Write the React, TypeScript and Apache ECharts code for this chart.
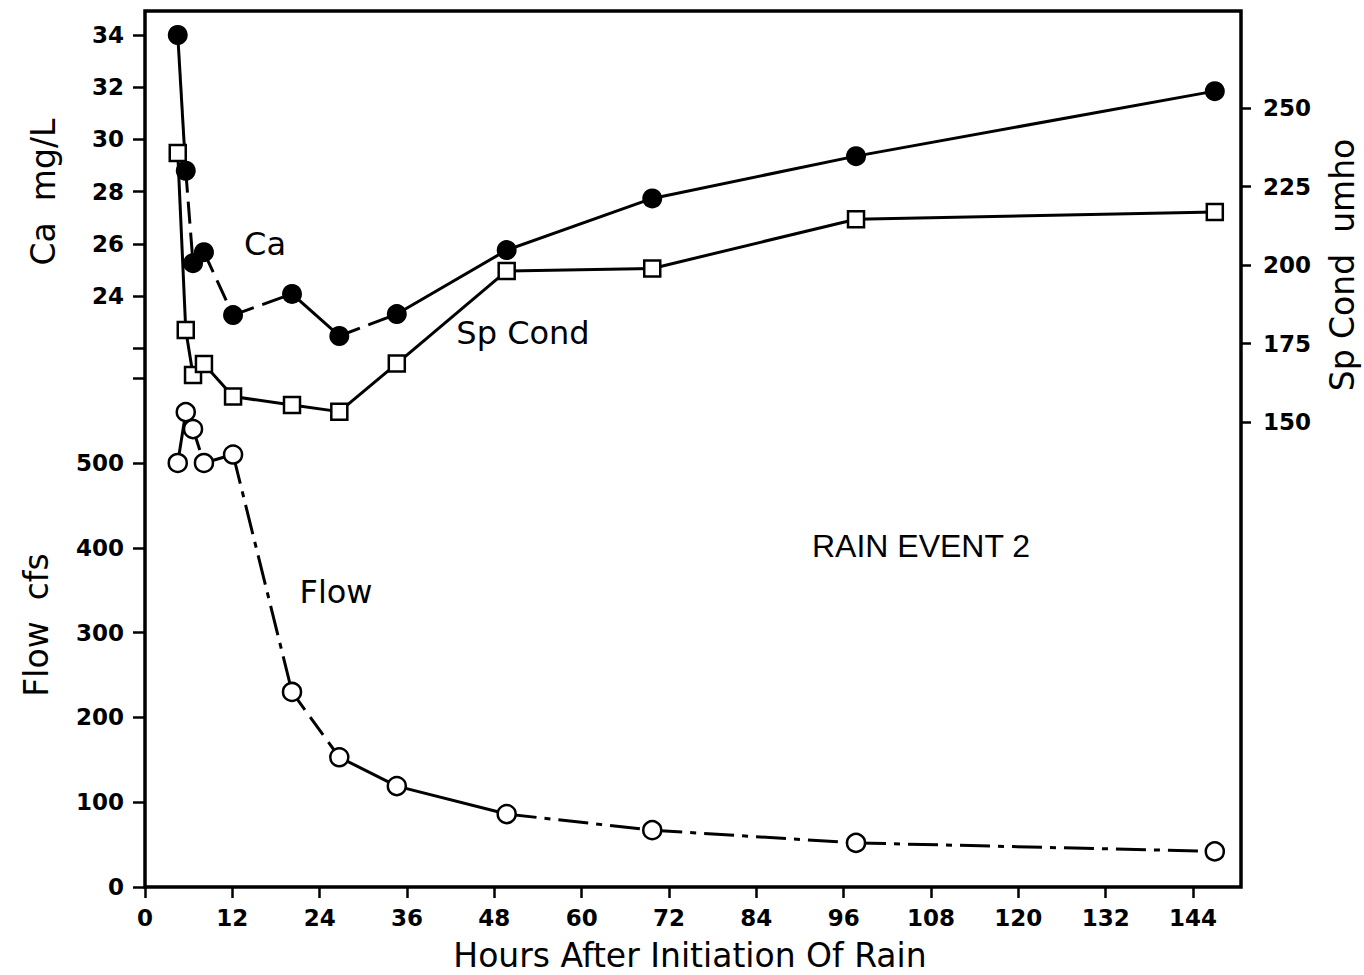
import { useEffect, useRef } from 'react';
import * as echarts from 'echarts';

// ---- data ----
const hours = [4.5, 5.6, 6.6, 8.1, 12.1, 20.2, 26.7, 34.6, 49.7, 69.7, 97.7, 147.0];
const caValues = [34.0, 28.8, 25.26, 25.68, 23.27, 24.08, 22.47, 23.31, 25.76, 27.74, 29.36, 31.85];
const spCondValues = [235.7, 179.3, 165.0, 168.5, 158.1, 155.4, 153.3, 168.6, 198.1, 198.9, 214.6, 216.9];
const flowValues = [500, 560, 540, 500, 510, 230, 153, 119, 86, 67, 52, 42];

const hourTicks = [0, 12, 24, 36, 48, 60, 72, 84, 96, 108, 120, 132, 144];
const caTickLabels = [24, 26, 28, 30, 32, 34];
const caTicks = [22, 24, 26, 28, 30, 32, 34];
const flowTickLabels = [0, 100, 200, 300, 400, 500];
const flowTicks = [0, 100, 200, 300, 400, 500, 600];
const spCondTicks = [150, 175, 200, 225, 250];

// line style of each segment between consecutive points
const caSegStyles = ['solid', 'dash', 'dash', 'dash', 'dash', 'solid', 'dash', 'solid', 'solid', 'solid', 'solid'];
const spSegStyles = ['solid', 'solid', 'solid', 'solid', 'solid', 'solid', 'solid', 'solid', 'solid', 'solid', 'solid'];
const flowSegStyles = ['solid', 'solid', 'dash', 'solid', 'dashdot', 'dash', 'solid', 'solid', 'dashdot', 'dashdot', 'dashdot'];

const dashMap: Record<string, any> = {
  solid: 'solid',
  dash: [22, 9],
  dashdot: [30, 8, 6, 8],
};

const FONT = '"DejaVu Sans", sans-serif';

function segments(values: number[], styles: string[], yAxisIndex: number, name: string) {
  const out: any[] = [];
  for (let i = 0; i < values.length - 1; i++) {
    out.push({
      type: 'line',
      name: name + '-seg' + i,
      yAxisIndex,
      data: [
        [hours[i], values[i]],
        [hours[i + 1], values[i + 1]],
      ],
      showSymbol: false,
      symbol: 'none',
      silent: true,
      z: 2,
      lineStyle: { color: '#000', width: 3, type: dashMap[styles[i]] },
    });
  }
  return out;
}

export default function App() {
  const ref = useRef<HTMLDivElement>(null);
  useEffect(() => {
    if (!ref.current) return;
    const chart = echarts.init(ref.current, null, { renderer: 'svg' });
    const tickLabel = { fontFamily: FONT, fontWeight: 'bold', fontSize: 23, color: '#000' };
    const option: any = {
      animation: false,
      backgroundColor: '#fff',
      grid: {
        left: 145,
        right: 123,
        top: 11,
        bottom: 88,
        show: true,
        borderColor: '#000',
        borderWidth: 3.5,
        containLabel: false,
        outerBoundsMode: 'none',
      },
      xAxis: {
        type: 'value',
        min: 0,
        max: 150.6,
        axisLine: { show: false },
        splitLine: { show: false },
        axisTick: { show: true, inside: false, length: 11, lineStyle: { color: '#000', width: 2.5 }, customValues: hourTicks },
        axisLabel: { ...tickLabel, margin: 19, customValues: hourTicks },
      },
      yAxis: [
        {
          type: 'value',
          min: 1.36,
          max: 34.92,
          position: 'left',
          axisLine: { show: false },
          splitLine: { show: false },
          axisTick: { show: true, length: 12, lineStyle: { color: '#000', width: 2.5 }, customValues: caTicks },
          axisLabel: { ...tickLabel, margin: 21, customValues: caTickLabels },
        },
        {
          type: 'value',
          min: 0,
          max: 1033,
          position: 'left',
          axisLine: { show: false },
          splitLine: { show: false },
          axisTick: { show: true, length: 12, lineStyle: { color: '#000', width: 2.5 }, customValues: flowTicks },
          axisLabel: { ...tickLabel, margin: 21, customValues: flowTickLabels },
        },
        {
          type: 'value',
          min: 1.9,
          max: 280.9,
          position: 'right',
          axisLine: { show: false },
          splitLine: { show: false },
          axisTick: { show: true, length: 10, lineStyle: { color: '#000', width: 2.5 }, customValues: spCondTicks },
          axisLabel: { ...tickLabel, margin: 22, customValues: spCondTicks },
        },
      ],
      series: [
        ...segments(caValues, caSegStyles, 0, 'Ca'),
        ...segments(spCondValues, spSegStyles, 2, 'SpCond'),
        ...segments(flowValues, flowSegStyles, 1, 'Flow'),
        {
          type: 'scatter',
          name: 'Ca',
          yAxisIndex: 0,
          data: hours.map((h, i) => [h, caValues[i]]),
          symbol: 'circle',
          symbolSize: 20,
          z: 4,
          itemStyle: { color: '#000', opacity: 1 },
          silent: true,
        },
        {
          type: 'scatter',
          name: 'Sp Cond',
          yAxisIndex: 2,
          data: hours.map((h, i) => [h, spCondValues[i]]),
          symbol: 'rect',
          symbolSize: 16,
          z: 3,
          itemStyle: { color: '#fff', borderColor: '#000', borderWidth: 2.5, opacity: 1 },
          silent: true,
        },
        {
          type: 'scatter',
          name: 'Flow',
          yAxisIndex: 1,
          data: hours.map((h, i) => [h, flowValues[i]]),
          symbol: 'circle',
          symbolSize: 18,
          z: 3,
          itemStyle: { color: '#fff', borderColor: '#000', borderWidth: 2.5, opacity: 1 },
          silent: true,
        },
      ],
      graphic: [
        {
          type: 'text',
          x: 43,
          y: 192,
          rotation: Math.PI / 2,
          style: { text: 'Ca  mg/L', font: '33px ' + FONT, fill: '#000', textAlign: 'center', textVerticalAlign: 'middle' },
        },
        {
          type: 'text',
          x: 36,
          y: 625,
          rotation: Math.PI / 2,
          style: { text: 'Flow  cfs', font: '33px ' + FONT, fill: '#000', textAlign: 'center', textVerticalAlign: 'middle' },
        },
        {
          type: 'text',
          x: 1342,
          y: 265,
          rotation: Math.PI / 2,
          style: { text: 'Sp Cond  umho', font: '33px ' + FONT, fill: '#000', textAlign: 'center', textVerticalAlign: 'middle' },
        },
        {
          type: 'text',
          x: 690,
          y: 955,
          style: { text: 'Hours After Initiation Of Rain', font: '33px ' + FONT, fill: '#000', textAlign: 'center', textVerticalAlign: 'middle' },
        },
        {
          type: 'text',
          x: 265,
          y: 244,
          style: { text: 'Ca', font: '32px ' + FONT, fill: '#000', textAlign: 'center', textVerticalAlign: 'middle' },
        },
        {
          type: 'text',
          x: 523,
          y: 333,
          style: { text: 'Sp Cond', font: '32px ' + FONT, fill: '#000', textAlign: 'center', textVerticalAlign: 'middle' },
        },
        {
          type: 'text',
          x: 336,
          y: 592,
          style: { text: 'Flow', font: '32px ' + FONT, fill: '#000', textAlign: 'center', textVerticalAlign: 'middle' },
        },
        {
          type: 'text',
          x: 921,
          y: 546,
          style: { text: 'RAIN EVENT 2', font: '32px "Liberation Sans Narrow", "Liberation Sans", sans-serif', fill: '#000', textAlign: 'center', textVerticalAlign: 'middle' },
        },
      ],
    };
    chart.setOption(option);
    return () => chart.dispose();
  }, []);
  return <div ref={ref} style={{ position: 'fixed', left: 0, top: 0, width: 1364, height: 975, background: '#fff' }} />;
}
